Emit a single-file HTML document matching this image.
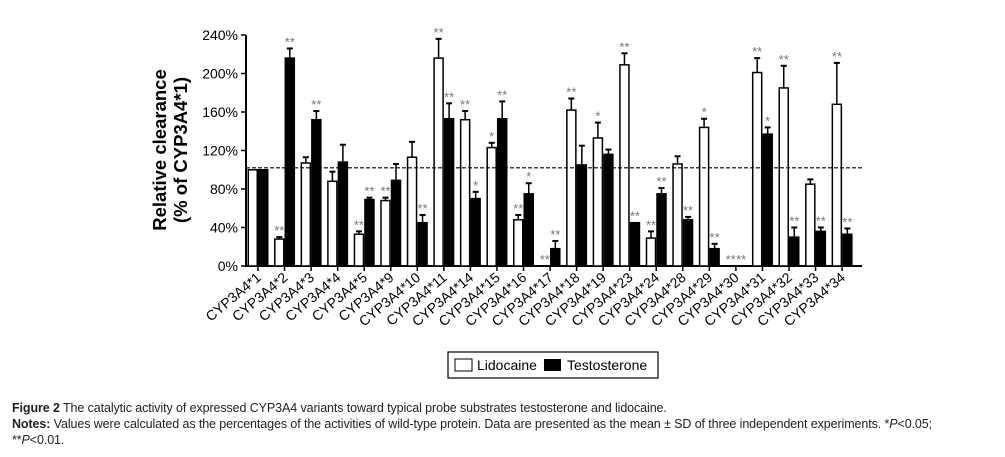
<!DOCTYPE html>
<html><head><meta charset="utf-8">
<style>
body{margin:0;background:#fff;width:1005px;height:457px;overflow:hidden;font-family:"Liberation Sans",sans-serif}
.cap{position:absolute;left:12px;font-size:12.5px;color:#222;white-space:nowrap;letter-spacing:-0.1px}
</style></head><body>
<svg id="chart" width="1005" height="457" style="position:absolute;left:0;top:0" font-family="Liberation Sans, sans-serif"></svg>
<div class="cap" style="top:401px"><b>Figure 2</b> The catalytic activity of expressed CYP3A4 variants toward typical probe substrates testosterone and lidocaine.</div>
<div class="cap" style="top:417px"><b>Notes:</b> Values were calculated as the percentages of the activities of wild-type protein. Data are presented as the mean ± SD of three independent experiments. *<i>P</i>&lt;0.05;</div>
<div class="cap" style="top:433px">**<i>P</i>&lt;0.01.</div>
<script>
const categories=["CYP3A4*1","CYP3A4*2","CYP3A4*3","CYP3A4*4","CYP3A4*5","CYP3A4*9","CYP3A4*10","CYP3A4*11","CYP3A4*14","CYP3A4*15","CYP3A4*16","CYP3A4*17","CYP3A4*18","CYP3A4*19","CYP3A4*23","CYP3A4*24","CYP3A4*28","CYP3A4*29","CYP3A4*30","CYP3A4*31","CYP3A4*32","CYP3A4*33","CYP3A4*34"];
const lidocaine=[100,28,107,88,33,68,113,216,152,123,48,0,162,133,209,29,106,144,0,201,185,85,168];
const lidocaineErr=[0,2,6,10,3,3,16,20,9,5,5,0,12,16,12,7,8,9,0,15,23,5,43];
const testosterone=[100,216,152,108,69,89,45,153,70,153,75,18,105,116,45,75,48,18,0,137,30,36,33];
const testosteroneErr=[0,10,9,18,2,17,8,16,7,18,11,8,20,5,0,6,3,5,0,7,10,4,6];
const lidoStars=["","**","","","**","**","","**","**","*","**","**","**","*","**","**","","*","**","**","**","","**"];
const testoStars=["","**","**","","**","","**","**","*","**","*","**","","","**","**","**","**","**","*","**","**","**"];
const yTicks=[0,40,80,120,160,200,240];
const refLine=102;
const svg=document.getElementById('chart');
const NS="http://www.w3.org/2000/svg";
const x0=258,pitch=26.55,bw=10.5,axX=246,axEnd=862;
const y=v=>266-v*0.9625;
const cx=i=>x0+i*pitch;
function mk(t,a,p){const e=document.createElementNS(NS,t);for(const k in a)e.setAttribute(k,a[k]);(p||svg).appendChild(e);return e;}
let e;
e=mk('line',{x1:axX,y1:y(0),x2:axEnd,y2:y(0),stroke:'#000','stroke-width':2});

e=mk('line',{x1:axX,y1:y(0)+1,x2:axX,y2:y(240),stroke:'#000','stroke-width':2});

yTicks.forEach(t=>{
 mk('line',{x1:axX-5,y1:y(t),x2:axX,y2:y(t),stroke:'#000','stroke-width':1.5});
 e=mk('text',{x:axX-8,y:y(t)+5,'text-anchor':'end','font-size':14});e.textContent=t+'%';
 
});
e=mk('text',{transform:'translate(166,150) rotate(-90)','text-anchor':'middle','font-size':18.5,'font-weight':'bold'});e.textContent='Relative clearance';

e=mk('text',{transform:'translate(187,150) rotate(-90)','text-anchor':'middle','font-size':18.5,'font-weight':'bold'});e.textContent='(% of CYP3A4*1)';

function bar(xl,v,err,fill,star,name){
 if(v>0){e=mk('rect',{x:xl+0.75,y:y(v),width:bw-1.5,height:y(0)-y(v),fill:fill,stroke:'#000','stroke-width':1.5});
 }
 const c=xl+bw/2;let top=y(v);
 if(err>0){top=y(v+err);mk('line',{x1:c,y1:y(v),x2:c,y2:top,stroke:'#000','stroke-width':1.5});mk('line',{x1:c-3,y1:top,x2:c+3,y2:top,stroke:'#000','stroke-width':2});}
 if(star){e=mk('text',{x:c,y:top-2,'text-anchor':'middle','font-size':13,fill:'#777'});e.textContent=star;
 }
}
categories.forEach((c,i)=>{
 const xc=cx(i);
 bar(xc-bw,lidocaine[i],lidocaineErr[i],'#fff',lidoStars[i],'bar-lidocaine');
 bar(xc,testosterone[i],testosteroneErr[i],'#000',testoStars[i],'bar-testosterone');
 mk('line',{x1:xc,y1:y(0),x2:xc,y2:y(0)+5,stroke:'#000','stroke-width':1.5});
 e=mk('text',{transform:`translate(${xc+4},${y(0)+13}) rotate(-40)`,'text-anchor':'end','font-size':14});e.textContent=c;
 
});
e=mk('line',{x1:axX,y1:y(refLine),x2:axEnd,y2:y(refLine),stroke:'#000','stroke-width':1.2,'stroke-dasharray':'4,2'});

const lg=mk('g',{});
mk('rect',{x:448,y:352,width:210,height:26,fill:'#fff',stroke:'#000','stroke-width':1.2},lg);
mk('rect',{x:455,y:359,width:17,height:12,fill:'#fff',stroke:'#000','stroke-width':1},lg);
e=mk('text',{x:477,y:370,'font-size':14},lg);e.textContent='Lidocaine';

mk('rect',{x:544,y:359,width:17,height:12,fill:'#000'},lg);
e=mk('text',{x:567,y:370,'font-size':14},lg);e.textContent='Testosterone';

</script>
</body></html>
